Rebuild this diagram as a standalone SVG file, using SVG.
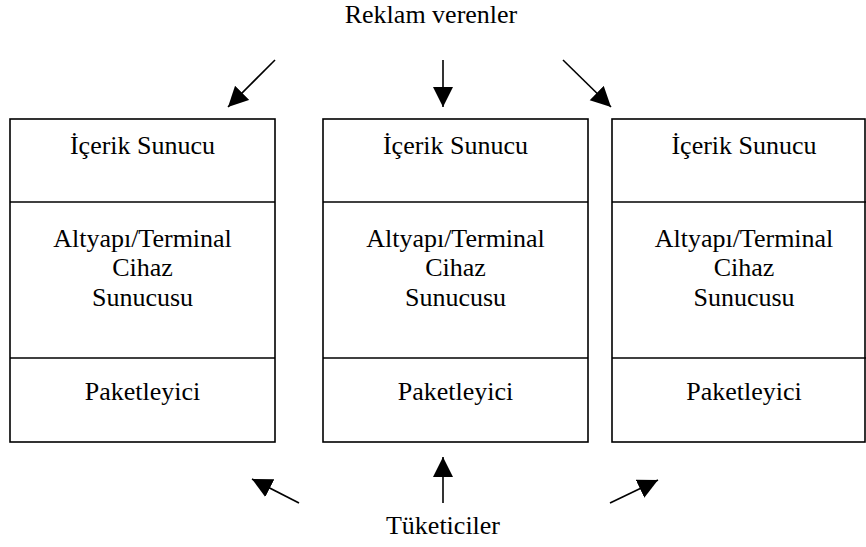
<svg xmlns="http://www.w3.org/2000/svg" width="866" height="547" viewBox="0 0 866 547">
  <style>
    .box { fill: #fff; stroke: #000; stroke-width: 1.6; }
    .div { stroke: #000; stroke-width: 1.4; }
    .lbl { font-family: 'Liberation Serif', 'Times New Roman', Times, 'DejaVu Serif', serif; font-size: 26px; fill: #000; text-anchor: middle; }
    .arr { stroke: #000; stroke-width: 1.6; fill: none; marker-end: url(#head); }
  </style>
  <defs>
    <marker id="head" markerUnits="userSpaceOnUse" markerWidth="22" markerHeight="22" refX="20" refY="10" orient="auto">
      <path d="M0,0 L20,10 L0,20 Z" fill="#000"/>
    </marker>
  </defs>

  <g font-family="Liberation Serif, Times New Roman, serif">
  <text class="lbl" x="431" y="22.5">Reklam verenler</text>
  <text class="lbl" x="443" y="534">Tüketiciler</text>

  <g id="stack-left">
    <rect class="box" x="10" y="119" width="265" height="323"/>
    <line class="div" x1="10" y1="202" x2="275" y2="202"/>
    <line class="div" x1="10" y1="358" x2="275" y2="358"/>
    <text class="lbl" x="142.5" y="154">İçerik Sunucu</text>
    <text class="lbl" x="142.5" y="246.5">Altyapı/Terminal</text>
    <text class="lbl" x="142.5" y="276">Cihaz</text>
    <text class="lbl" x="142.5" y="305.5">Sunucusu</text>
    <text class="lbl" x="142.5" y="400">Paketleyici</text>
  </g>

  <g id="stack-middle">
    <rect class="box" x="323" y="119" width="265" height="323"/>
    <line class="div" x1="323" y1="202" x2="588" y2="202"/>
    <line class="div" x1="323" y1="358" x2="588" y2="358"/>
    <text class="lbl" x="455.5" y="154">İçerik Sunucu</text>
    <text class="lbl" x="455.5" y="246.5">Altyapı/Terminal</text>
    <text class="lbl" x="455.5" y="276">Cihaz</text>
    <text class="lbl" x="455.5" y="305.5">Sunucusu</text>
    <text class="lbl" x="455.5" y="400">Paketleyici</text>
  </g>

  <g id="stack-right">
    <rect class="box" x="612" y="119" width="253" height="323"/>
    <line class="div" x1="612" y1="202" x2="866" y2="202"/>
    <line class="div" x1="612" y1="358" x2="866" y2="358"/>
    <text class="lbl" x="744" y="154">İçerik Sunucu</text>
    <text class="lbl" x="744" y="246.5">Altyapı/Terminal</text>
    <text class="lbl" x="744" y="276">Cihaz</text>
    <text class="lbl" x="744" y="305.5">Sunucusu</text>
    <text class="lbl" x="744" y="400">Paketleyici</text>
  </g>
  </g>

  <g id="connectors">
    <line class="arr" x1="275" y1="60" x2="228" y2="107"/>
    <line class="arr" x1="443" y1="60" x2="443" y2="107"/>
    <line class="arr" x1="563" y1="60" x2="611" y2="107"/>
    <line class="arr" x1="299" y1="503" x2="252" y2="479"/>
    <line class="arr" x1="443" y1="503" x2="443" y2="457"/>
    <line class="arr" x1="610" y1="503" x2="658" y2="480"/>
  </g>
</svg>
